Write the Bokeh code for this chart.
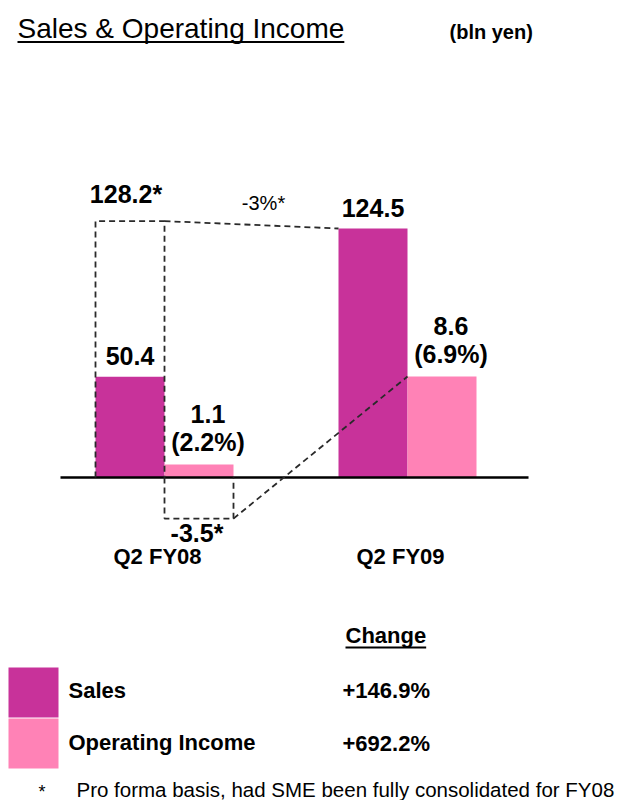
from bokeh.plotting import figure
from bokeh.models import Range1d
from bokeh.core.properties import value
from bokeh.embed import file_html
from bokeh.resources import INLINE

# ---------------- data ----------------
periods = ["Q2 FY08", "Q2 FY09"]
sales = [50.4, 124.5]
op_income = [1.1, 8.6]
op_margin = ["2.2%", "6.9%"]
proforma_sales_fy08 = 128.2
proforma_oi_fy08 = -3.5
proforma_sales_change = "-3%*"
change_series = ["Sales", "Operating Income"]
change_values = ["+146.9%", "+692.2%"]
title_text = "Sales & Operating Income"
unit_text = "(bln yen)"
footnote_mark = "*"
footnote_text = "Pro forma basis, had SME been fully consolidated for FY08"

# ---------------- layout / style ----------------
SALES_C = "#C8329A"
OI_C = "#FF82B6"
DASH_C = "#2a2a2a"
FONT = value("Liberation Sans")

W, H = 617, 800
GROUP_PX = 243.0        # pixels between the two period groups
X0_PX = 164.0           # canvas x of first group centre
BASE_PX = H - 477.0     # canvas y (from bottom) of the zero line
SALES_PX = 2.0          # px per bln yen (sales)
OI_PX = 101.0 / 8.6     # px per bln yen (operating income, own scale)
BW = 69.0 / GROUP_PX    # bar width in group units

groups = list(range(len(periods)))
sales_x = [g - BW / 2 for g in groups]
oi_x = [g + BW / 2 for g in groups]


def hx(ix):
    """canvas pixel x -> data x (for layout texts)"""
    return (ix - X0_PX) / GROUP_PX


def hy(iy):
    """canvas pixel y (from top) -> sales data y (for layout texts)"""
    return (H - iy - BASE_PX) / SALES_PX


p = figure(width=W, height=H, output_backend="svg", toolbar_location=None,
           x_range=Range1d(-X0_PX / GROUP_PX, (W - X0_PX) / GROUP_PX),
           y_range=Range1d(-BASE_PX / SALES_PX, (H - BASE_PX) / SALES_PX),
           x_axis_location=None, y_axis_location=None,
           min_border=0, outline_line_color=None,
           background_fill_color="white", border_fill_color="white")
p.extra_y_ranges = {"oi": Range1d(-BASE_PX / OI_PX, (H - BASE_PX) / OI_PX)}
p.xgrid.visible = False
p.ygrid.visible = False

# bars
p.vbar(x=sales_x, top=sales, bottom=0, width=BW, fill_color=SALES_C, line_color=None)
p.vbar(x=oi_x, top=op_income, bottom=0, width=BW, fill_color=OI_C, line_color=None,
       y_range_name="oi")

# zero line
p.line(x=[groups[0] - 0.428, groups[-1] + 0.498], y=[0, 0], line_color="black", line_width=2.5)

# pro forma dashed outlines and connectors
dash = dict(line_color=DASH_C, line_dash="6 4", line_width=1.8)
p.line(x=[sales_x[0] - BW / 2, sales_x[0] - BW / 2, sales_x[0] + BW / 2, sales_x[0] + BW / 2],
       y=[0, proforma_sales_fy08, proforma_sales_fy08, 0], **dash)
p.line(x=[sales_x[0] + BW / 2, sales_x[1] - BW / 2],
       y=[proforma_sales_fy08, sales[1]], **dash)
p.line(x=[oi_x[0] - BW / 2, oi_x[0] - BW / 2, oi_x[0] + BW / 2, oi_x[0] + BW / 2],
       y=[0, proforma_oi_fy08, proforma_oi_fy08, 0], y_range_name="oi", **dash)
p.line(x=[oi_x[0] + BW / 2, oi_x[1] - BW / 2],
       y=[proforma_oi_fy08, op_income[1]], y_range_name="oi", **dash)

num = dict(text_font=FONT, text_font_style="bold", text_font_size="25px",
           text_color="black", text_align="center")

# value labels
p.text(x=sales_x, y=sales, text=[f"{v}" for v in sales],
       text_baseline="bottom", y_offset=-12, **num)
p.text(x=[sales_x[0]], y=[proforma_sales_fy08], text=[f"{proforma_sales_fy08}*"],
       text_baseline="bottom", x_offset=-4, y_offset=-13, **num)
p.text(x=oi_x, y=op_income, text=[f"{v}\n({m})" for v, m in zip(op_income, op_margin)],
       text_baseline="bottom", x_offset=9, y_offset=-9, text_line_height=1.0,
       y_range_name="oi", **num)
p.text(x=[oi_x[0]], y=[proforma_oi_fy08], text=[f"{proforma_oi_fy08}*"],
       text_baseline="top", x_offset=-2, y_offset=0, y_range_name="oi", **num)
p.text(x=[(sales_x[0] + BW / 2 + sales_x[1] - BW / 2) / 2],
       y=[(proforma_sales_fy08 + sales[1]) / 2], text=[proforma_sales_change],
       text_font=FONT, text_font_size="20px", text_color="black",
       text_align="center", text_baseline="bottom", x_offset=12, y_offset=-11)

# category labels
p.text(x=groups, y=[0] * len(groups), text=periods, text_font=FONT,
       text_font_style="bold", text_font_size="22px", text_color="black",
       text_align="center", text_baseline="middle", x_offset=-7, y_offset=79)

# title and unit
p.text(x=[hx(17)], y=[hy(28)], text=[title_text], text_font=FONT,
       text_font_size="28px", text_color="black", text_align="left",
       text_baseline="middle")
p.line(x=[hx(17), hx(17 + 11.672 * 28)], y=[hy(41.5), hy(41.5)],
       line_color="black", line_width=2)
p.text(x=[hx(449)], y=[hy(31)], text=[unit_text], text_font=FONT,
       text_font_style="bold", text_font_size="20px", text_color="black",
       text_align="left", text_baseline="middle")

# legend-like change table
p.quad(left=[hx(8)] * 2, right=[hx(58)] * 2,
       top=[hy(667), hy(718)], bottom=[hy(717), hy(768)],
       fill_color=[SALES_C, OI_C], line_color=None)
p.text(x=[hx(68)] * 2, y=[hy(690), hy(742)], text=change_series, text_font=FONT,
       text_font_style="bold", text_font_size="22px", text_color="black",
       text_align="left", text_baseline="middle")
p.text(x=[hx(342)] * 2, y=[hy(690), hy(743)], text=change_values, text_font=FONT,
       text_font_style="bold", text_font_size="22px", text_color="black",
       text_align="left", text_baseline="middle")
p.text(x=[hx(345)], y=[hy(635)], text=["Change"], text_font=FONT,
       text_font_style="bold", text_font_size="22px", text_color="black",
       text_align="left", text_baseline="middle")
p.line(x=[hx(345), hx(345 + 3.667 * 22)], y=[hy(647), hy(647)],
       line_color="black", line_width=2)

# footnote
p.text(x=[hx(38)], y=[hy(791)], text=[footnote_mark], text_font=FONT,
       text_font_size="18px", text_color="black", text_align="left",
       text_baseline="middle")
p.text(x=[hx(76)], y=[hy(789)], text=[footnote_text], text_font=FONT,
       text_font_size="20.5px", text_color="black", text_align="left",
       text_baseline="middle")

open("out.html", "w").write(file_html(p, INLINE))
